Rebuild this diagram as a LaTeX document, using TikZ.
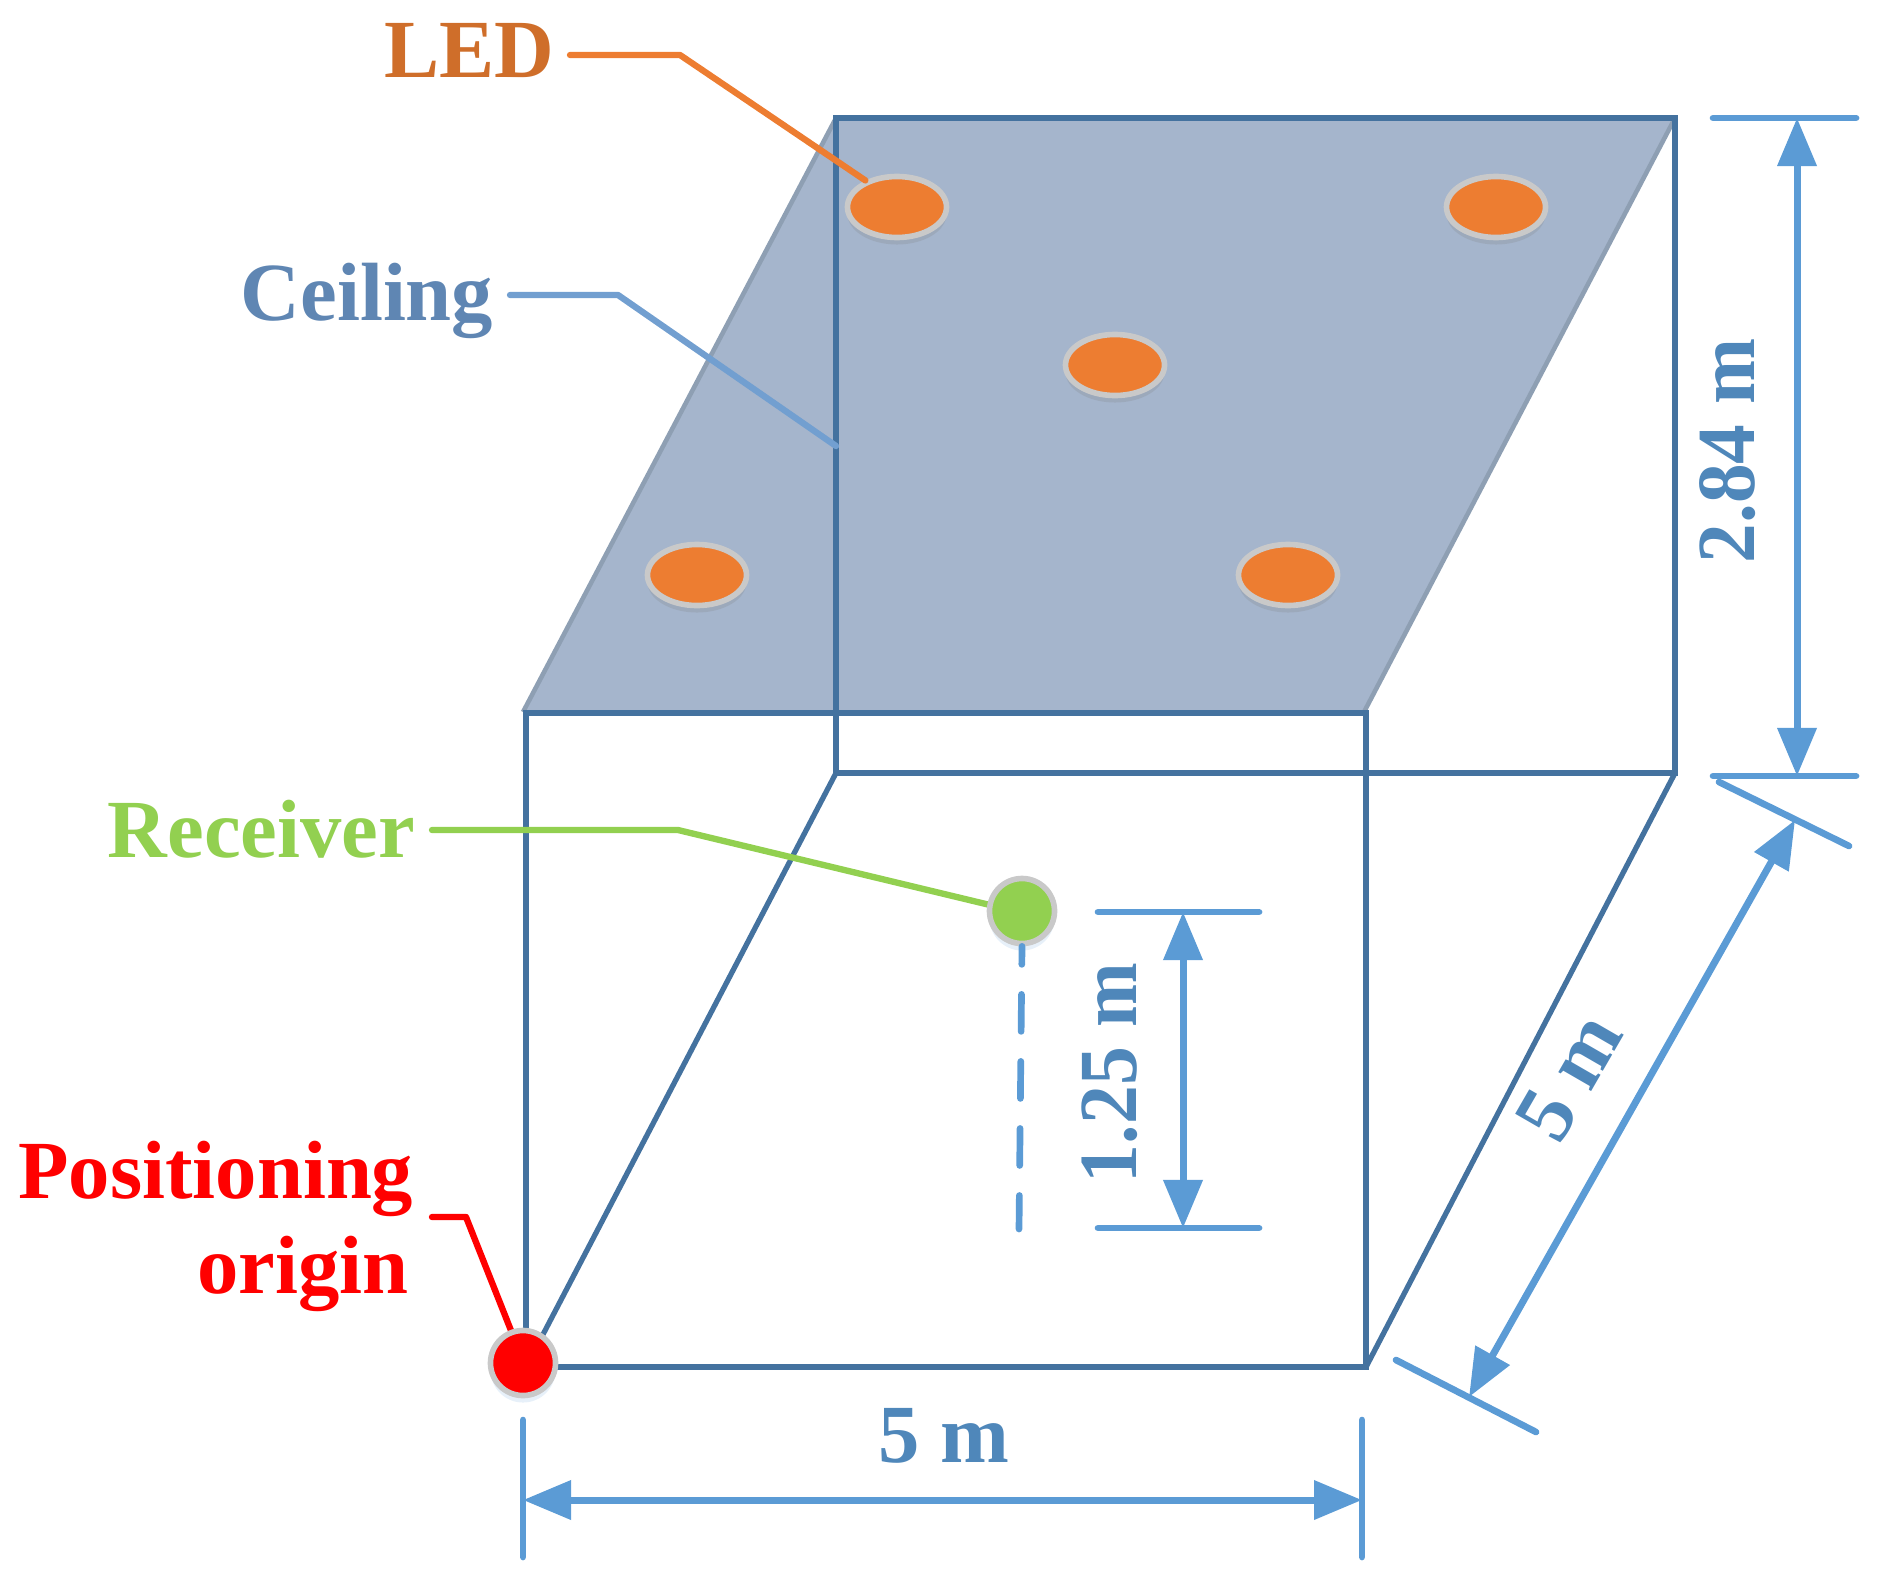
\documentclass[tikz,border=0pt]{standalone}
\usepackage{fontspec}
\setmainfont{Liberation Serif}
\usepackage{xcolor}
\usetikzlibrary{arrows.meta,shapes.geometric,shadows}

\definecolor{boxblue}{HTML}{44729F}
\definecolor{ceilfill}{HTML}{A5B5CC}
\definecolor{ceiledge}{HTML}{8E9FB3}
\definecolor{dimblue}{HTML}{5B9BD5}
\definecolor{dimtext}{HTML}{4F87BA}
\definecolor{ledorange}{HTML}{ED7D31}
\definecolor{ledtext}{HTML}{CF6E2A}
\definecolor{ceilline}{HTML}{729FD0}
\definecolor{ceiltext}{HTML}{5F86B3}
\definecolor{recvgreen}{HTML}{92D050}
\definecolor{rimgray}{HTML}{C9C9C9}

\begin{document}
\begin{tikzpicture}[
    x=0.01cm, y=-0.01cm,
    edge/.style={draw=boxblue, line width=1.5pt},
    led/.style={ellipse, fill=ledorange, draw=rimgray, line width=1.6pt, minimum width=0.99cm, minimum height=0.61cm, inner sep=0pt,
        drop shadow={shadow xshift=0pt, shadow yshift=-0.07cm, opacity=0.22}},
    dot/.style={circle, draw=rimgray, line width=1.6pt, minimum size=0.65cm, inner sep=0pt,
        drop shadow={shadow xshift=0pt, shadow yshift=-0.07cm, opacity=0.15, fill=dimblue}},
    tag/.style={font=\fontsize{23.5}{27}\selectfont\bfseries, inner sep=0pt},
    dimtag/.style={tag, text=dimtext},
    leader/.style={line width=1.8pt, line cap=round, line join=round},
    tick/.style={draw=dimblue, line width=1.9pt, line cap=round},
    dimarrow/.style={draw=dimblue, fill=dimblue, line width=2pt, {Triangle[length=0.48cm, width=0.38cm]}-{Triangle[length=0.48cm, width=0.38cm]}}
]
    \useasboundingbox (0,0) rectangle (1892,1591);

    % room corners
    \coordinate (ftl) at (526,713);
    \coordinate (ftr) at (1366,713);
    \coordinate (fbl) at (526,1367);
    \coordinate (fbr) at (1366,1367);
    \coordinate (btl) at (836,118);
    \coordinate (btr) at (1675,118);
    \coordinate (bbl) at (836,773);
    \coordinate (bbr) at (1675,773);
    \coordinate (ceilbl) at (523,712);
    \coordinate (ceilbr) at (1364,712);

    \fill[ceilfill] (btl) -- (btr) -- (ceilbr) -- (ceilbl) -- cycle;
    \draw[draw=ceiledge, line width=1.3pt] (ceilbl) -- (btl);
    \draw[draw=ceiledge, line width=1.3pt] (btr) -- (ceilbr);

    \draw[edge] (ftl) rectangle (fbr);
    \draw[edge] (btl) rectangle (bbr);
    \draw[edge] (bbl) -- (fbl);
    \draw[edge] (bbr) -- (fbr);

    % labels
    \node[tag, text=ledtext, anchor=base west] (ledtag) at (384,78) {LED};
    \node[tag, text=ceiltext, anchor=base west] (ceiltag) at (240,320) {Ceiling};
    \node[tag, text=recvgreen, anchor=base west] (recvtag) at (107,857) {Receiver};
    \node[tag, text=red, align=right, anchor=base east] (origintag) at (414,1293) {Positioning\\origin\hspace*{1.4pt}};

    \coordinate (ledstart) at (570,55);
    \coordinate (ledbend) at (680,55);
    \coordinate (ceilstart) at (510,295);
    \coordinate (ceilbend) at (618,295);
    \coordinate (ceilend) at (836,446);
    \coordinate (recvstart) at (432,830);
    \coordinate (recvbend) at (678,830);
    \coordinate (originstart) at (432,1217);
    \coordinate (originbend) at (466,1217);

    \draw[leader, draw=ceilline] (ceilstart) -- (ceilbend) -- (ceilend);

    \node[led] (lednw) at (897,207) {};
    \node[led] (ledne) at (1496,207) {};
    \node[led] (ledc) at (1115,365) {};
    \node[led] (ledsw) at (697,575) {};
    \node[led] (ledse) at (1288,575) {};

    \draw[leader, draw=ledorange] (ledstart) -- (ledbend) -- (lednw.140);
    \draw[leader, draw=recvgreen] (recvstart) -- (recvbend) -- (990,905);
    \draw[leader, draw=red] (originstart) -- (originbend) -- (512,1333);

    \node[dot, fill=recvgreen] (recv) at (1022,911) {};
    \node[dot, fill=red] (origin) at (523,1363) {};

    % receiver height
    \coordinate (recvfoot) at (1019,1229);
    \draw[draw=dimblue, line width=1.9pt, line cap=round, dash pattern=on 0.37cm off 0.30cm, dash phase=0.19cm] (recv.south) -- (recvfoot);
    \coordinate (recvta) at (1098,912);
    \coordinate (recvtb) at (1259,912);
    \coordinate (recvba) at (1098,1228);
    \coordinate (recvbb) at (1259,1228);
    \draw[tick] (recvta) -- (recvtb);
    \draw[tick] (recvba) -- (recvbb);
    \draw[dimarrow] (1183,912) -- (1183,1228);
    \node[dimtag, rotate=90] (recvdim) at (1110,1073) {\scalebox{0.94}[1]{1.25 m}};

    % room height
    \coordinate (heightta) at (1713,118);
    \coordinate (heighttb) at (1856,118);
    \coordinate (heightba) at (1713,776);
    \coordinate (heightbb) at (1856,776);
    \draw[tick] (heightta) -- (heighttb);
    \draw[tick] (heightba) -- (heightbb);
    \draw[dimarrow] (1797,118) -- (1797,776);
    \node[dimtag, rotate=90] (heightdim) at (1728,451) {\scalebox{0.96}[1]{2.84 m}};

    % room depth
    \coordinate (deepta) at (1719,782);
    \coordinate (deeptb) at (1849,846);
    \coordinate (deepba) at (1396,1360);
    \coordinate (deepbb) at (1536,1432);
    \draw[tick] (deepta) -- (deeptb);
    \draw[tick] (deepba) -- (deepbb);
    \draw[dimarrow] (1469,1397) -- (1795,820);
    \node[dimtag, rotate=60] (deepdim) at (1569,1077) {5 m};

    % room width
    \coordinate (wideta) at (523,1420);
    \coordinate (wideba) at (523,1557);
    \coordinate (widetb) at (1362,1420);
    \coordinate (widebb) at (1362,1557);
    \draw[tick] (wideta) -- (wideba);
    \draw[tick] (widetb) -- (widebb);
    \draw[dimarrow] (523,1500) -- (1362,1500);
    \node[dimtag] (widedim) at (944,1436) {5 m};
\end{tikzpicture}
\end{document}
